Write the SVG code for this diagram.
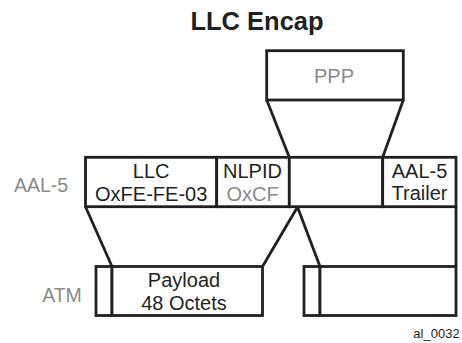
<svg xmlns="http://www.w3.org/2000/svg" width="462" height="343" viewBox="0 0 462 343">
<style>
.box{fill:#fff;stroke:#231f20;stroke-width:2.8}
.ln{fill:none;stroke:#231f20;stroke-width:2.8;stroke-linejoin:miter}
text{font-family:"Liberation Sans",Arial,sans-serif;text-anchor:middle}
.t{font-size:20px;fill:#231f20}
.g{font-size:20px;fill:#8a8a8a}
.side{font-size:19.5px;fill:#8a8a8a}
</style>
<rect width="462" height="343" fill="#fff"/>
<text x="257" y="29.5" style="font-size:25.5px;font-weight:bold;fill:#231f20">LLC Encap</text>
<g id="connectors">
<path class="ln" d="M266.7,100 L289.3,157.3"/>
<path class="ln" d="M403.3,100 L382.7,157.3"/>
<path class="ln" d="M85.5,206.7 L112,266.5"/>
<path class="ln" d="M262.5,266.5 L297.5,207 L320,266.5"/>
<path class="ln" d="M456,206.7 L456,266.5"/>
</g>
<g id="ppp">
<rect class="box" x="266.7" y="50.7" width="136.6" height="49.3"/>
<text class="g" x="334" y="82.5">PPP</text>
</g>
<g id="aal5-label"><text class="side" x="41" y="192">AAL-5</text></g>
<g id="atm-label"><text class="side" x="62" y="302">ATM</text></g>
<g id="aal5-llc">
<rect class="box" x="85.5" y="157.3" width="131.2" height="49.4"/>
<text class="t" x="151.2" y="177.5">LLC</text>
<text class="t" x="151.2" y="200.5">OxFE-FE-03</text>
</g>
<g id="aal5-nlpid">
<rect class="box" x="216.7" y="157.3" width="72.6" height="49.4"/>
<text class="t" x="252.5" y="177.5">NLPID</text>
<text class="g" x="252.5" y="200.5">OxCF</text>
</g>
<g id="aal5-payload">
<rect class="box" x="289.3" y="157.3" width="93.4" height="49.4"/>
</g>
<g id="aal5-trailer">
<rect class="box" x="382.7" y="157.3" width="73.3" height="49.4"/>
<text class="t" x="419.5" y="178">AAL-5</text>
<text class="t" x="419.5" y="199.5">Trailer</text>
</g>
<g id="atm-cell1">
<rect class="box" x="96" y="266.5" width="16" height="49"/>
<rect class="box" x="112" y="266.5" width="150.5" height="49"/>
<text class="t" x="184" y="287.3">Payload</text>
<text class="t" x="184" y="310">48 Octets</text>
</g>
<g id="atm-cell2">
<rect class="box" x="304" y="266.5" width="16" height="49"/>
<rect class="box" x="320" y="266.5" width="136" height="49"/>
</g>
<text x="436.5" y="337.5" style="font-size:13px;fill:#231f20">al_0032</text>
</svg>
